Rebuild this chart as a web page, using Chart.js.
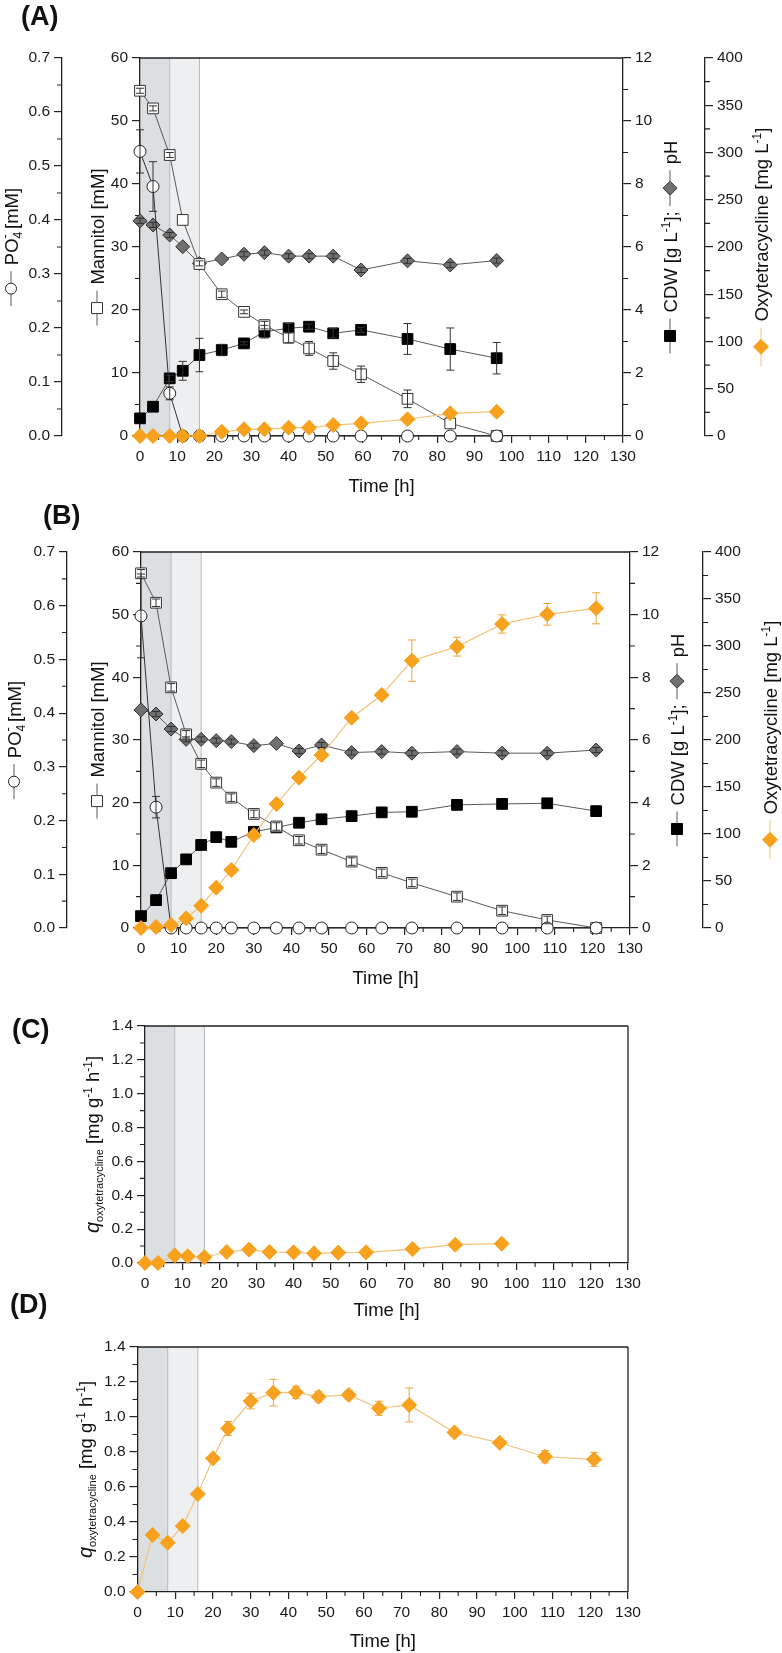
<!DOCTYPE html>
<html lang="en">
<head>
<meta charset="UTF-8">
<title>Oxytetracycline cultivation</title>
<script src="https://cdn.jsdelivr.net/npm/chart.js"></script>
<style>
  body { margin: 0; background: #fff; }
  #page { position: relative; width: 782px; height: 1653px; font-family: 'Liberation Sans', Arial, sans-serif; }
  canvas { position: absolute; left: 0; }
  .panel-label { position: absolute; font-weight: bold; font-size: 27px; line-height: 27px; color: #111; }
</style>
</head>
<body>
<div id="page">
  <canvas id="chartA" width="782" height="500" style="top:0px"></canvas>
  <canvas id="chartB" width="782" height="495" style="top:500px"></canvas>
  <canvas id="chartC" width="782" height="330" style="top:995px"></canvas>
  <canvas id="chartD" width="782" height="328" style="top:1325px"></canvas>
  <div class="panel-label" style="left:21px;top:3px">(A)</div>
  <div class="panel-label" style="left:43px;top:502px">(B)</div>
  <div class="panel-label" style="left:12px;top:1016px">(C)</div>
  <div class="panel-label" style="left:10px;top:1291px">(D)</div>
</div>
<script>
// ---- data (A: first cultivation, B: second cultivation) ----
const phaseBounds = [0, 8, 16];

const timeA = [0, 3.5, 8, 11.5, 16, 22, 28, 33.5, 40, 45.5, 52, 59.5, 72, 83.5, 96];
const po4A = [0.527, 0.462, 0.079, 0, 0, 0, 0, 0, 0, 0, 0, 0, 0, 0, 0];
const po4ErrA = [0.04, 0.046, 0.012, 0, 0, 0, 0, 0, 0, 0, 0, 0, 0, 0, 0];
const mannitolA = [54.8, 52.0, 44.6, 34.3, 27.3, 22.5, 19.7, 17.6, 15.6, 13.9, 11.9, 9.8, 5.9, 2.0, 0];
const mannitolErrA = [0.4, 0.4, 0.4, 0, 0, 0.5, 0.3, 0.6, 0.8, 1.1, 1.3, 1.3, 1.4, 0, 0];
const cdwA = [0.56, 0.93, 1.83, 2.07, 2.57, 2.73, 2.94, 3.31, 3.42, 3.47, 3.26, 3.37, 3.08, 2.76, 2.47];
const cdwErrA = [0, 0, 0.1, 0.3, 0.53, 0.18, 0.05, 0.2, 0.15, 0.08, 0.15, 0.08, 0.49, 0.67, 0.5];
const phA = [6.83, 6.70, 6.38, 6.01, 5.48, 5.62, 5.77, 5.82, 5.71, 5.71, 5.71, 5.27, 5.56, 5.43, 5.57];
const phErrA = [0.08, 0.08, 0.08, 0, 0.08, 0, 0.08, 0.08, 0.08, 0.08, 0.08, 0.08, 0.08, 0.08, 0.08];
const oxyA = [0, 0, 0, 0, 0, 4.5, 7.1, 7.1, 8.8, 8.8, 11.6, 13.4, 17.7, 24, 25.7];

const timeB = [0, 4, 8, 12, 16, 20, 24, 30, 36, 42, 48, 56, 64, 72, 84, 96, 108, 121];
const po4B = [0.581, 0.225, 0, 0, 0, 0, 0, 0, 0, 0, 0, 0, 0, 0, 0, 0, 0, 0];
const po4ErrB = [0.078, 0.02, 0, 0, 0, 0, 0, 0, 0, 0, 0, 0, 0, 0, 0, 0, 0, 0];
const mannitolB = [56.6, 51.9, 38.4, 30.9, 26.2, 23.2, 20.8, 18.2, 16.2, 14.0, 12.5, 10.6, 8.8, 7.2, 5.0, 2.76, 1.28, 0];
const mannitolErrB = [0.6, 0.6, 0.6, 0.6, 0.6, 0.6, 0.6, 0.6, 0.6, 0.6, 0.6, 0.6, 0.6, 0.6, 0.6, 0.6, 0.6, 0];
const cdwB = [0.38, 0.89, 1.75, 2.19, 2.65, 2.9, 2.75, 3.07, 3.21, 3.36, 3.47, 3.57, 3.69, 3.71, 3.93, 3.96, 3.98, 3.73];
const phB = [6.96, 6.83, 6.35, 6.02, 6.02, 5.98, 5.95, 5.82, 5.89, 5.65, 5.84, 5.6, 5.63, 5.58, 5.63, 5.58, 5.58, 5.68];
const phErrB = [0, 0.08, 0.08, 0.08, 0.08, 0.08, 0.08, 0.08, 0, 0.08, 0.08, 0.08, 0.08, 0.08, 0.08, 0.08, 0.08, 0.08];
const oxyB = [0, 1, 3.2, 10.3, 23.7, 42.9, 61.7, 98.9, 131.9, 159.9, 184, 223.7, 247.9, 284.4, 299.3, 323.4, 333.7, 340.1];
const oxyErrB = [0, 0, 0, 0, 0, 0, 0, 0, 0, 0, 0, 0, 0, 22, 10, 9.7, 11.5, 16.5];

const qOxyC = [0, 0, 0.045, 0.04, 0.034, 0.065, 0.079, 0.065, 0.063, 0.057, 0.061, 0.063, 0.082, 0.108, 0.114];
const qOxyD = [0, 0.326, 0.282, 0.377, 0.56, 0.764, 0.935, 1.091, 1.139, 1.141, 1.116, 1.126, 1.05, 1.069, 0.912, 0.853, 0.773, 0.758];
const qOxyErrD = [0, 0, 0, 0, 0, 0.02, 0.04, 0.045, 0.076, 0.035, 0.03, 0.025, 0.04, 0.097, 0.02, 0.02, 0.035, 0.04];

// ---- look ----
const FONT = "'Liberation Sans', Arial, Helvetica, sans-serif";
const AXIS = '#222';
const ORANGE = '#f8a11d';
const ORANGE_LINE = '#f3c27a';
const GREY_LINE = '#5a5a5a';
const PH_FILL = '#707070';

Chart.defaults.font.family = FONT;
Chart.defaults.font.size = 15.5;
Chart.defaults.color = '#1a1a1a';
Chart.defaults.animation = false;
Chart.defaults.events = [];
Chart.defaults.plugins.legend.display = false;
Chart.defaults.plugins.tooltip.enabled = false;

// shaded growth phases behind everything
const phasePlugin = {
  id: 'phases',
  beforeDraw(chart) {
    const { ctx, chartArea: a, scales: { x } } = chart;
    const p0 = x.getPixelForValue(phaseBounds[0]);
    const p1 = x.getPixelForValue(phaseBounds[1]);
    const p2 = x.getPixelForValue(phaseBounds[2]);
    ctx.save();
    ctx.fillStyle = '#dcdfe2';
    ctx.fillRect(p0, a.top, p1 - p0, a.bottom - a.top);
    ctx.fillStyle = '#eeeff1';
    ctx.fillRect(p1, a.top, p2 - p1, a.bottom - a.top);
    ctx.strokeStyle = '#b7babe';
    ctx.lineWidth = 1;
    ctx.beginPath();
    ctx.moveTo(p1, a.top); ctx.lineTo(p1, a.bottom);
    ctx.moveTo(p2, a.top); ctx.lineTo(p2, a.bottom);
    ctx.stroke();
    ctx.restore();
  }
};

// frame lines and minor ticks
const axisExtras = {
  id: 'axisExtras',
  beforeDatasetsDraw(chart, args, opts) {
    const { ctx, chartArea: a } = chart;
    ctx.save();
    ctx.strokeStyle = AXIS;
    ctx.lineWidth = 1.3;
    ctx.beginPath();
    ctx.moveTo(a.left, a.top); ctx.lineTo(a.right, a.top);
    if (opts.boxRight) { ctx.moveTo(a.right, a.top); ctx.lineTo(a.right, a.bottom); }
    ctx.stroke();
    ctx.lineWidth = 1.1;
    const minor = opts.minor || {};
    for (const id in minor) {
      const s = chart.scales[id];
      const step = minor[id];
      const n = Math.round((s.max - s.min) / step);
      ctx.beginPath();
      for (let k = 1; k < n; k += 2) {
        const p = s.getPixelForValue(s.min + k * step);
        if (s.isHorizontal()) { ctx.moveTo(p, s.top); ctx.lineTo(p, s.top + 4); }
        else if (s.position === 'left') { ctx.moveTo(s.right, p); ctx.lineTo(s.right - 5, p); }
        else { ctx.moveTo(s.left, p); ctx.lineTo(s.left + 5, p); }
      }
      ctx.stroke();
    }
    ctx.restore();
  }
};

// vertical error bars on top of the markers
const errorBars = {
  id: 'errorBars',
  afterDatasetsDraw(chart) {
    const ctx = chart.ctx;
    chart.data.datasets.forEach((ds, i) => {
      if (!ds.err) return;
      const meta = chart.getDatasetMeta(i);
      const ys = chart.scales[ds.yAxisID || 'y'];
      ctx.save();
      ctx.strokeStyle = ds.errColor || '#333';
      ctx.lineWidth = 1;
      meta.data.forEach((pt, j) => {
        const e = ds.err[j];
        if (!e) return;
        const v = ds.data[j].y;
        const y1 = ys.getPixelForValue(v + e);
        const y2 = ys.getPixelForValue(v - e);
        ctx.beginPath();
        ctx.moveTo(pt.x, y1); ctx.lineTo(pt.x, y2);
        ctx.moveTo(pt.x - 4, y1); ctx.lineTo(pt.x + 4, y1);
        ctx.moveTo(pt.x - 4, y2); ctx.lineTo(pt.x + 4, y2);
        ctx.stroke();
      });
      ctx.restore();
    });
  }
};

function drawMarker(ctx, m, cx, cy) {
  ctx.beginPath();
  if (m.marker === 'circle') ctx.arc(cx, cy, m.r, 0, Math.PI * 2);
  else if (m.marker === 'rect') ctx.rect(cx - m.r, cy - m.r, 2 * m.r, 2 * m.r);
  else { ctx.moveTo(cx - m.r, cy); ctx.lineTo(cx, cy - m.r); ctx.lineTo(cx + m.r, cy); ctx.lineTo(cx, cy + m.r); ctx.closePath(); }
  ctx.fillStyle = m.fill;
  ctx.fill();
  ctx.strokeStyle = m.stroke;
  ctx.lineWidth = 1;
  ctx.stroke();
}

// axis titles made of text pieces, sub/superscripts and little legend symbols
function drawRich(ctx, cx, cy, rotate, segs) {
  const parts = segs.map(s => {
    let w = 0;
    if (s.text !== undefined) {
      ctx.font = (s.italic ? 'italic ' : '') + (s.size || 18.5) + 'px ' + FONT;
      w = ctx.measureText(s.text).width;
    } else if (s.line) w = s.line;
    else if (s.marker) w = 2 * s.r;
    else if (s.gap) w = s.gap;
    return Object.assign({}, s, { w: s.stay ? 0 : w });
  });
  const total = parts.reduce((acc, p) => acc + p.w, 0);
  ctx.save();
  ctx.translate(cx, cy);
  if (rotate) ctx.rotate(-Math.PI / 2);
  let x = -total / 2;
  const base = 18.5 * 0.36;
  for (const p of parts) {
    if (p.text !== undefined) {
      ctx.font = (p.italic ? 'italic ' : '') + (p.size || 18.5) + 'px ' + FONT;
      ctx.fillStyle = p.color || '#111';
      ctx.textAlign = 'left';
      ctx.textBaseline = 'alphabetic';
      ctx.fillText(p.text, x, base + (p.dy || 0));
    } else if (p.line) {
      ctx.strokeStyle = p.color || GREY_LINE;
      ctx.lineWidth = 1;
      ctx.beginPath(); ctx.moveTo(x, 0); ctx.lineTo(x + p.line, 0); ctx.stroke();
    } else if (p.marker) {
      drawMarker(ctx, p, x + p.r, 0);
    }
    x += p.w;
  }
  ctx.restore();
}

const titlesPlugin = {
  id: 'richTitles',
  afterDraw(chart, args, opts) {
    const a = chart.chartArea;
    (opts.items || []).forEach(it => {
      const cx = it.x !== undefined ? it.x : (a.left + a.right) / 2;
      const cy = it.y !== undefined ? it.y : (a.top + a.bottom) / 2;
      drawRich(chart.ctx, cx, cy, it.rotate, it.segs);
    });
  }
};

function yAxis(pos, min, max, step, width, weight, decimals) {
  return {
    type: 'linear', position: pos, min: min, max: max, weight: weight,
    grid: { drawOnChartArea: false, drawTicks: true, tickLength: 8, color: AXIS, lineWidth: 1.2 },
    border: { display: true, color: AXIS, width: 1.3 },
    ticks: { stepSize: step, padding: 4, autoSkip: false, callback: v => Number(v).toFixed(decimals) },
    afterFit: s => { s.width = width; }
  };
}

function xAxis() {
  return {
    type: 'linear', position: 'bottom', min: 0, max: 130,
    grid: { drawOnChartArea: false, drawTicks: true, tickLength: 7, color: AXIS, lineWidth: 1.2 },
    border: { display: true, color: AXIS, width: 1.3 },
    ticks: { stepSize: 10, padding: 4, maxRotation: 0, autoSkip: false },
    afterFit: s => { s.height = 40; }
  };
}

function series(t, v, err, axis, st) {
  return {
    data: t.map((x, i) => ({ x: x, y: v[i] })),
    yAxisID: axis,
    err: err,
    errColor: st.errColor || '#333',
    borderColor: st.line,
    borderWidth: st.lineWidth || 1,
    tension: 0,
    clip: false,
    pointStyle: st.style,
    pointRadius: st.r,
    pointBackgroundColor: st.fill,
    pointBorderColor: st.stroke,
    pointBorderWidth: 1
  };
}

const sym = {
  circle: { marker: 'circle', r: 5.5, fill: '#fff', stroke: '#222' },
  open: { marker: 'rect', r: 5.5, fill: '#fff', stroke: '#333' },
  black: { marker: 'rect', r: 5.5, fill: '#000', stroke: '#000' },
  ph: { marker: 'diamond', r: 7, fill: PH_FILL, stroke: '#333' },
  oxy: { marker: 'diamond', r: 7.5, fill: ORANGE, stroke: ORANGE }
};
const sup = s => ({ text: s, size: 12, dy: -7 });

function fermentationChart(id, t, d, lay) {
  const datasets = [
    series(t, d.oxy, d.oxyErr, 'oxy', { line: ORANGE_LINE, lineWidth: 1.2, style: 'rectRot', r: 7.5, fill: ORANGE, stroke: ORANGE, errColor: '#f0a43a' }),
    series(t, d.po4, d.po4Err, 'po4', { line: '#333', style: 'circle', r: 6, fill: '#fff', stroke: '#222' }),
    series(t, d.man, d.manErr, 'man', { line: GREY_LINE, style: 'rect', r: 7.6, fill: '#fff', stroke: '#333' }),
    series(t, d.ph, d.phErr, 'cdw', { line: GREY_LINE, style: 'rectRot', r: 7, fill: PH_FILL, stroke: '#333' }),
    series(t, d.cdw, d.cdwErr, 'cdw', { line: GREY_LINE, style: 'rect', r: 7.6, fill: '#000', stroke: '#000' })
  ];
  return new Chart(document.getElementById(id), {
    type: 'line',
    data: { datasets: datasets },
    options: {
      responsive: false,
      layout: { padding: { top: lay.top, bottom: lay.bottom, left: 0, right: 0 } },
      scales: {
        x: xAxis(),
        po4: yAxis('left', 0, 0.7, 0.1, lay.po4W, 1, 1),
        man: yAxis('left', 0, 60, 10, lay.manW, 0, 0),
        cdw: yAxis('right', 0, 12, 2, lay.cdwW, 0, 0),
        oxy: yAxis('right', 0, 400, 50, lay.oxyW, 1, 0)
      },
      plugins: {
        axisExtras: { minor: { x: 5, po4: 0.05, man: 5, cdw: 1, oxy: 25 } },
        richTitles: { items: [
          { x: lay.tPo4, rotate: true, segs: [{ line: 12 }, sym.circle, { line: 12 }, { gap: 6 }, { text: 'PO' }, { text: '4', size: 12, dy: 4, stay: true }, { text: '-', size: 13, dy: -9 }, { text: ' [mM]' }] },
          { x: lay.tMan, rotate: true, segs: [{ line: 12 }, sym.open, { line: 12 }, { gap: 6 }, { text: 'Mannitol [mM]' }] },
          { x: lay.tCdw, rotate: true, segs: [{ line: 12 }, sym.black, { line: 12 }, { gap: 6 }, { text: 'CDW [g L' }, sup('-1'), { text: ']; ' }, { line: 11 }, sym.ph, { line: 11 }, { gap: 6 }, { text: 'pH' }] },
          { x: lay.tOxy, rotate: true, segs: [{ line: 12, color: ORANGE_LINE }, sym.oxy, { line: 12, color: ORANGE_LINE }, { gap: 6 }, { text: 'Oxytetracycline [mg L' }, sup('-1'), { text: ']' }] },
          { y: lay.tTime, segs: [{ text: 'Time [h]' }] }
        ] }
      }
    },
    plugins: [phasePlugin, axisExtras, errorBars, titlesPlugin]
  });
}

function rateChart(id, t, v, err, lay) {
  return new Chart(document.getElementById(id), {
    type: 'line',
    data: { datasets: [series(t, v, err, 'y', { line: ORANGE_LINE, lineWidth: 1.2, style: 'rectRot', r: 7.5, fill: ORANGE, stroke: ORANGE, errColor: '#f0a43a' })] },
    options: {
      responsive: false,
      layout: { padding: { top: lay.top, bottom: lay.bottom, left: 0, right: lay.right } },
      scales: {
        x: xAxis(),
        y: yAxis('left', 0, 1.4, 0.2, lay.yW, 0, 1)
      },
      plugins: {
        axisExtras: { boxRight: true, minor: { x: 5, y: 0.1 } },
        richTitles: { items: [
          { x: lay.tY, rotate: true, segs: [{ text: 'q', italic: true, size: 20 }, { text: 'oxytetracycline', size: 11, dy: 4 }, { text: ' [mg g' }, sup('-1'), { text: ' h' }, sup('-1'), { text: ']' }] },
          { y: lay.tTime, segs: [{ text: 'Time [h]' }] }
        ] }
      }
    },
    plugins: [phasePlugin, axisExtras, errorBars, titlesPlugin]
  });
}

fermentationChart('chartA', timeA,
  { po4: po4A, po4Err: po4ErrA, man: mannitolA, manErr: mannitolErrA, cdw: cdwA, cdwErr: cdwErrA, ph: phA, phErr: phErrA, oxy: oxyA, oxyErr: null },
  { top: 58, bottom: 24, po4W: 62, manW: 78, cdwW: 82, oxyW: 77, tPo4: 11, tMan: 97, tCdw: 670, tOxy: 761, tTime: 485 });

fermentationChart('chartB', timeB,
  { po4: po4B, po4Err: po4ErrB, man: mannitolB, manErr: mannitolErrB, cdw: cdwB, cdwErr: null, ph: phB, phErr: phErrB, oxy: oxyB, oxyErr: oxyErrB },
  { top: 52, bottom: 27, po4W: 67, manW: 74, cdwW: 73, oxyW: 79, tPo4: 14, tMan: 97, tCdw: 677, tOxy: 770, tTime: 477 });

rateChart('chartC', timeA, qOxyC, null, { top: 31, bottom: 22, right: 154, yW: 145, tY: 92, tTime: 314 });
rateChart('chartD', timeB, qOxyD, qOxyErrD, { top: 22, bottom: 21, right: 154, yW: 137.5, tY: 85, tTime: 315 });
</script>
</body>
</html>
